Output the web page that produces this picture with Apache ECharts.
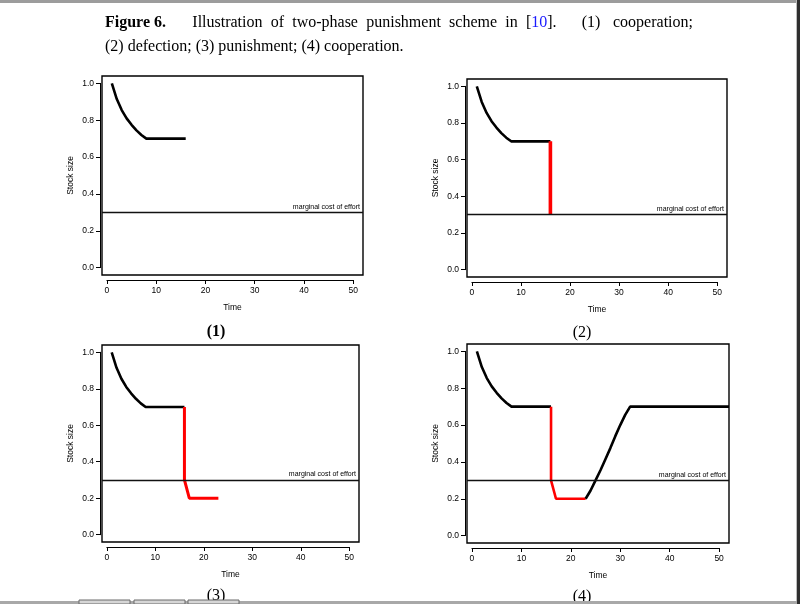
<!DOCTYPE html>
<html>
<head>
<meta charset="utf-8">
<script src="https://cdn.jsdelivr.net/npm/echarts@6/dist/echarts.min.js"></script>
<style>
  html, body { margin: 0; padding: 0; background: #fff; }
  #chart { width: 800px; height: 604px; }
</style>
</head>
<body>
<div id="chart"></div>
<script>
// stock path pieces
const coopTime = [1, 2, 3, 4, 5, 6, 7, 8, 16];
const coopStock = [1.0, 0.915, 0.855, 0.81, 0.775, 0.745, 0.72, 0.70, 0.70];
const defectTime = [16, 16];
const defectStock = [0.70, 0.30];
const punishTime = [16, 16, 17, 23];
const punishStock = [0.70, 0.30, 0.20, 0.20];
const recoverTime = [23, 24, 25, 26, 27, 28, 29, 30, 31, 32, 33, 52];
const recoverStock = [0.20, 0.245, 0.30, 0.355, 0.415, 0.475, 0.54, 0.60, 0.655, 0.70, 0.70, 0.70];
const costLevel = 0.3;
const costLabel = 'marginal cost of effort';

const panelLabels = ['(1)', '(2)', '(3)', '(4)'];

// axis ranges (R style, 4% padding)
const X_MIN = -1, X_MAX = 52;
const Y_MIN = -0.04, Y_MAX = 1.04;

// plot boxes [left, top, width, height]
const boxes = [
    [102, 76, 261, 199],
    [467, 79, 260, 198],
    [102, 345, 257, 197],
    [467, 344, 262, 199]
];
const labelPos = [[216, 332], [582, 333], [216, 596], [582, 597]];

function zip(xs, ys) { return xs.map((x, i) => [x, ys[i]]); }

const BLACK = '#000';
const RED = '#ff0000';
const SANS = '"Liberation Sans", Arial, sans-serif';
const SERIF = '"Liberation Serif", "Times New Roman", serif';

// which pieces go in each panel
const panelPieces = [
    [['coop', BLACK, 2.6]],
    [['coop', BLACK, 2.6], ['defect', RED, 3.6]],
    [['coop', BLACK, 2.6], ['punish', RED, 3]],
    [['coop', BLACK, 2.6], ['punish', RED, 2.6], ['recover', BLACK, 2.6]]
];
const pieceData = {
    coop: zip(coopTime, coopStock),
    defect: zip(defectTime, defectStock),
    punish: zip(punishTime, punishStock),
    recover: zip(recoverTime, recoverStock)
};

let grids = [], xAxes = [], yAxes = [], series = [];

boxes.forEach((b, i) => {
    let [L, T, W, H] = b;
    // main plot box
    grids.push({left: L, top: T, width: W, height: H, show: true,
        borderColor: '#000', borderWidth: 1.4, containLabel: false});
    // axis frame that spans only 0..50 and 0..1, like R's axis()
    let aL = L + W * (0 - X_MIN) / (X_MAX - X_MIN);
    let aW = W * (50 - 0) / (X_MAX - X_MIN);
    let aT = T + H * (Y_MAX - 1) / (Y_MAX - Y_MIN);
    let aH = H * (1 - 0) / (Y_MAX - Y_MIN);
    grids.push({left: aL, top: aT, width: aW, height: aH, show: false});

    let g = i * 2;
    xAxes.push({
        gridIndex: g, type: 'value', min: X_MIN, max: X_MAX,
        name: 'Time', nameLocation: 'middle', nameGap: 28,
        nameTextStyle: {fontSize: 8.5, fontFamily: SANS, color: '#000'},
        axisLine: {show: false}, axisTick: {show: false}, axisLabel: {show: false}, splitLine: {show: false}
    });
    yAxes.push({
        gridIndex: g, type: 'value', min: Y_MIN, max: Y_MAX,
        name: 'Stock size', nameLocation: 'middle', nameGap: 27,
        nameTextStyle: {fontSize: 8.5, fontFamily: SANS, color: '#000'},
        axisLine: {show: false}, axisTick: {show: false}, axisLabel: {show: false}, splitLine: {show: false}
    });
    xAxes.push({
        gridIndex: g + 1, type: 'value', min: 0, max: 50, interval: 10,
        position: 'bottom',
        offset: 5 + (T + H - (aT + aH)),
        axisLine: {show: true, onZero: false, lineStyle: {color: '#000', width: 1}},
        axisTick: {show: true, inside: false, length: 4, lineStyle: {color: '#000', width: 1}},
        axisLabel: {fontSize: 8.5, fontFamily: SANS, color: '#000', margin: 6},
        splitLine: {show: false}
    });
    yAxes.push({
        gridIndex: g + 1, type: 'value', min: 0, max: 1, interval: 0.2,
        position: 'left',
        offset: 2 + (aL - L),
        axisLine: {show: true, onZero: false, lineStyle: {color: '#000', width: 1}},
        axisTick: {show: true, inside: false, length: 4, lineStyle: {color: '#000', width: 1}},
        axisLabel: {fontSize: 8.5, fontFamily: SANS, color: '#000', margin: 6,
            formatter: v => v.toFixed(1)},
        splitLine: {show: false}
    });

    // marginal cost line
    series.push({
        type: 'line', xAxisIndex: g, yAxisIndex: g, data: [],
        markLine: {
            silent: true, symbol: ['none', 'none'], animation: false,
            data: [{yAxis: costLevel}],
            lineStyle: {color: '#111', width: 1.4, type: 'solid'},
            label: {show: true, position: 'insideEndTop', formatter: costLabel,
                fontSize: 7, fontFamily: SANS, color: '#000', distance: [3, 2]}
        }
    });
    panelPieces[i].forEach(p => {
        series.push({
            type: 'line', xAxisIndex: g, yAxisIndex: g,
            data: pieceData[p[0]], symbol: 'none', clip: true,
            lineStyle: {color: p[1], width: p[2]}
        });
    });
});

let graphics = [];
function word(text, x, y, opts) {
    graphics.push({type: 'text', x: x, y: y, z: 10, style: Object.assign({
        text: text, fontSize: 16, fontFamily: SERIF, fill: '#000', verticalAlign: 'middle'
    }, opts || {})});
}
// caption, line 1 is justified so words are set one by one
word('Figure 6.', 105, 23, {fontWeight: 'bold'});
word('Illustration', 192.3, 23);
word('of', 270.7, 23);
word('two-phase', 292.2, 23);
word('punishment', 366.2, 23);
word('scheme', 449.1, 23);
word('in', 505.3, 23);
word('[{b|10}].', 525.9, 23, {rich: {b: {fill: '#1a1aff', fontSize: 16, fontFamily: SERIF}}});
word('(1)', 581.7, 23);
word('cooperation;', 613, 23);
word('(2) defection; (3) punishment; (4) cooperation.', 105, 47);

panelLabels.forEach((t, i) => {
    word(t, labelPos[i][0], labelPos[i][1], {align: 'center', fontWeight: i === 0 ? 'bold' : 'normal'});
});

// viewer frame edges
graphics.push({type: 'rect', z: 20, shape: {x: 0, y: 0, width: 800, height: 3}, style: {fill: '#9c9c9c'}});
graphics.push({type: 'rect', z: 20, shape: {x: 796, y: 0, width: 1, height: 604}, style: {fill: '#bdbdbd'}});
graphics.push({type: 'rect', z: 20, shape: {x: 797, y: 0, width: 3, height: 604}, style: {fill: '#2e2e2e'}});
graphics.push({type: 'rect', z: 20, shape: {x: 0, y: 601, width: 797, height: 3}, style: {fill: '#a8a8a8'}});
[[79, 51], [134, 51], [188, 51]].forEach(t => {
    graphics.push({type: 'rect', z: 21, shape: {x: t[0], y: 600, width: t[1], height: 4},
        style: {fill: '#d6d6d6', stroke: '#6a6a6a', lineWidth: 1}});
});

const chart = echarts.init(document.getElementById('chart'), null, {renderer: 'canvas'});
chart.setOption({
    animation: false,
    backgroundColor: '#fff',
    grid: grids,
    xAxis: xAxes,
    yAxis: yAxes,
    series: series,
    graphic: graphics
});
</script>
</body>
</html>
